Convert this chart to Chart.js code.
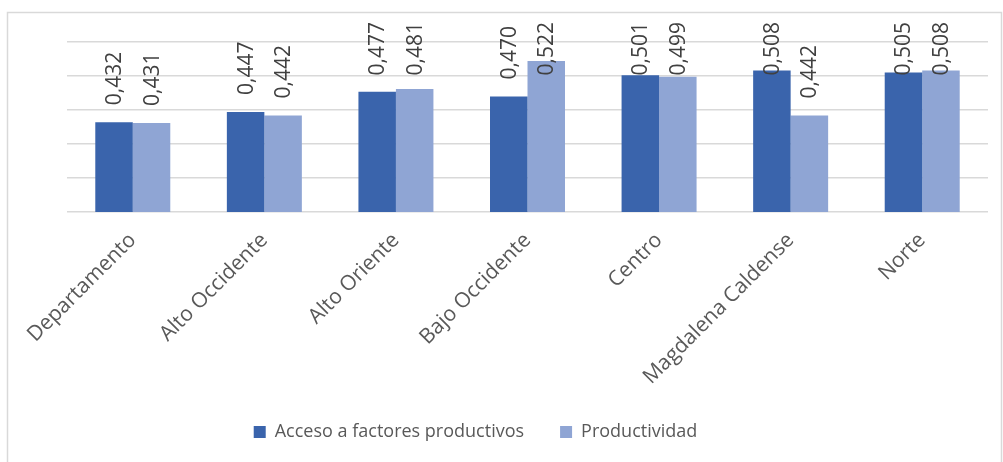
<!DOCTYPE html>
<html>
<head>
<meta charset="utf-8">
<script src="https://cdn.jsdelivr.net/npm/chart.js@4.4.0/dist/chart.umd.min.js"></script>
<style>
html,body{margin:0;padding:0;background:#fff;}
#wrap{width:1003px;height:462px;position:relative;}
</style>
</head>
<body>
<div id="wrap"><canvas id="c" width="1003" height="462"></canvas></div>
<script>
const categories = ["Departamento","Alto Occidente","Alto Oriente","Bajo Occidente","Centro","Magdalena Caldense","Norte"];
const acceso = [0.432,0.447,0.477,0.470,0.501,0.508,0.505];
const productividad = [0.431,0.442,0.481,0.522,0.499,0.442,0.508];
const seriesNames = ["Acceso a factores productivos","Productividad"];

const FONT = "'Open Sans', sans-serif";

const borderPlugin = {
  id:'borderPlugin',
  beforeDraw(chart){
    const ctx = chart.ctx;
    ctx.save();
    ctx.fillStyle = '#fff';
    ctx.fillRect(0,0,chart.width,chart.height);
    ctx.strokeStyle = '#d9d9d9';
    ctx.lineWidth = 1.5;
    ctx.strokeRect(7.5,12.5,chart.width-9,chart.height-10);
    ctx.restore();
  }
};

const legendShift = {
  id:'legendShift',
  afterLayout(chart){
    if (chart.legend) { chart.legend.left -= 37; chart.legend.right -= 37; }
  }
};

const valueLabels = {
  id:'valueLabels',
  afterDatasetsDraw(chart){
    const ctx = chart.ctx;
    ctx.save();
    ctx.font = "21px " + FONT;
    ctx.fillStyle = '#404040';
    ctx.textAlign = 'left';
    ctx.textBaseline = 'middle';
    chart.data.datasets.forEach((ds, di) => {
      const meta = chart.getDatasetMeta(di);
      meta.data.forEach((bar, i) => {
        const txt = ds.data[i].toFixed(3).replace('.', ',');
        const w = ctx.measureText(txt).width;
        let y0 = bar.y - 17;
        if (y0 - w < 22) y0 = 22 + w;
        ctx.save();
        ctx.translate(bar.x, y0);
        ctx.rotate(-Math.PI/2);
        ctx.fillText(txt, 0, 1);
        ctx.restore();
      });
    });
    ctx.restore();
  }
};

new Chart(document.getElementById('c'), {
  type:'bar',
  data:{
    labels: categories,
    datasets:[
      {label: seriesNames[0], data: acceso, backgroundColor:'#3A64AC', borderColor:'#3A64AC', borderWidth:0},
      {label: seriesNames[1], data: productividad, backgroundColor:'#8FA5D4', borderColor:'#8FA5D4', borderWidth:0}
    ]
  },
  options:{
    responsive:false,
    animation:false,
    devicePixelRatio:1,
    layout:{padding:{left:37,right:15,top:42,bottom:11}},
    datasets:{bar:{categoryPercentage:0.57,barPercentage:1.0}},
    scales:{
      x:{
        grid:{display:false},
        border:{display:false},
        ticks:{color:'#595959',font:{family:FONT,size:21},maxRotation:45,minRotation:45,padding:8},
        afterFit(s){ s.height = 175; }
      },
      y:{
        min:0.3,max:0.55,
        ticks:{display:false,stepSize:0.05},
        grid:{color:'#d9d9d9',lineWidth:1.5,drawTicks:false},
        border:{display:false},
        afterFit(s){ s.width = 30; }
      }
    },
    plugins:{
      legend:{
        position:'bottom',
        labels:{color:'#595959',font:{family:FONT,size:18},boxWidth:12,boxHeight:12,padding:36}
      },
      tooltip:{enabled:false}
    }
  },
  plugins:[borderPlugin,legendShift,valueLabels]
});
</script>
</body>
</html>
